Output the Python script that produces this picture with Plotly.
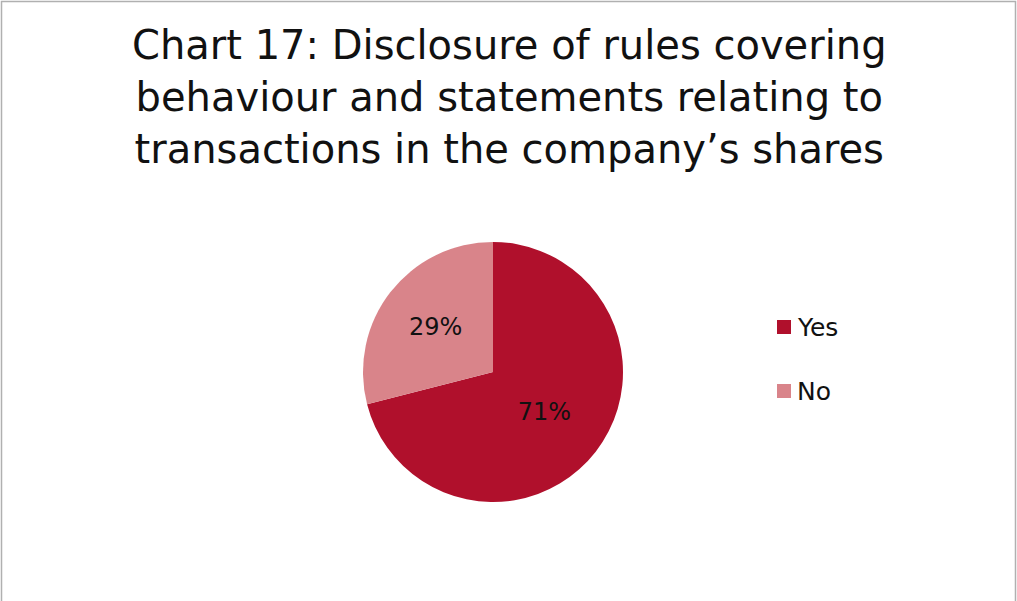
import plotly.graph_objects as go

labels = ["Yes", "No"]
values = [71, 29]
colors = ["#B0102C", "#D9848A"]
title_lines = ["Chart 17: Disclosure of rules covering",
               "behaviour and statements relating to",
               "transactions in the company\u2019s shares"]

W, H = 1017, 601
FONT = "DejaVu Sans"

fig = go.Figure()
fig.add_trace(go.Pie(
    labels=labels, values=values, sort=False, direction="clockwise", rotation=0,
    marker=dict(colors=colors, line=dict(color="white", width=0)),
    texttemplate="%{percent:.0%}", textposition="inside", insidetextorientation="horizontal",
    textfont=dict(family=FONT, size=24, color="#111111"),
    domain=dict(x=[363 / W, 623 / W], y=[(H - 502) / H, (H - 242) / H]),
    showlegend=False, hoverinfo="label+percent",
))

# title as one multi-line text
fig.add_annotation(text="<br>".join(title_lines), xref="paper", yref="paper",
                   x=509 / W, y=(H - 97) / H, xanchor="center", yanchor="middle",
                   align="center", showarrow=False,
                   font=dict(family=FONT, size=40, color="#111111"))

# manual legend
leg_y = [327, 391]
for i, (lab, col) in enumerate(zip(labels, colors)):
    y = leg_y[i]
    fig.add_shape(type="rect", xref="paper", yref="paper",
                  x0=777 / W, x1=791 / W, y0=(H - y - 7) / H, y1=(H - y + 7) / H,
                  fillcolor=col, line=dict(width=0))
    fig.add_annotation(text=lab, xref="paper", yref="paper", x=795 / W, y=(H - y) / H,
                       xanchor="left", yanchor="middle", showarrow=False,
                       font=dict(family=FONT, size=25, color="#111111"))

# border
fig.add_shape(type="rect", xref="paper", yref="paper", x0=1.5 / W, x1=1015.5 / W,
              y0=-0.01, y1=(H - 1.5) / H, line=dict(color="#B0B0B0", width=1.5),
              fillcolor="rgba(0,0,0,0)")

fig.update_layout(width=W, height=H, margin=dict(l=0, r=0, t=0, b=0),
                  paper_bgcolor="white", plot_bgcolor="white")
fig.write_html("out.html", config={"displayModeBar": False},
               post_script="document.body.style.margin='0';")
